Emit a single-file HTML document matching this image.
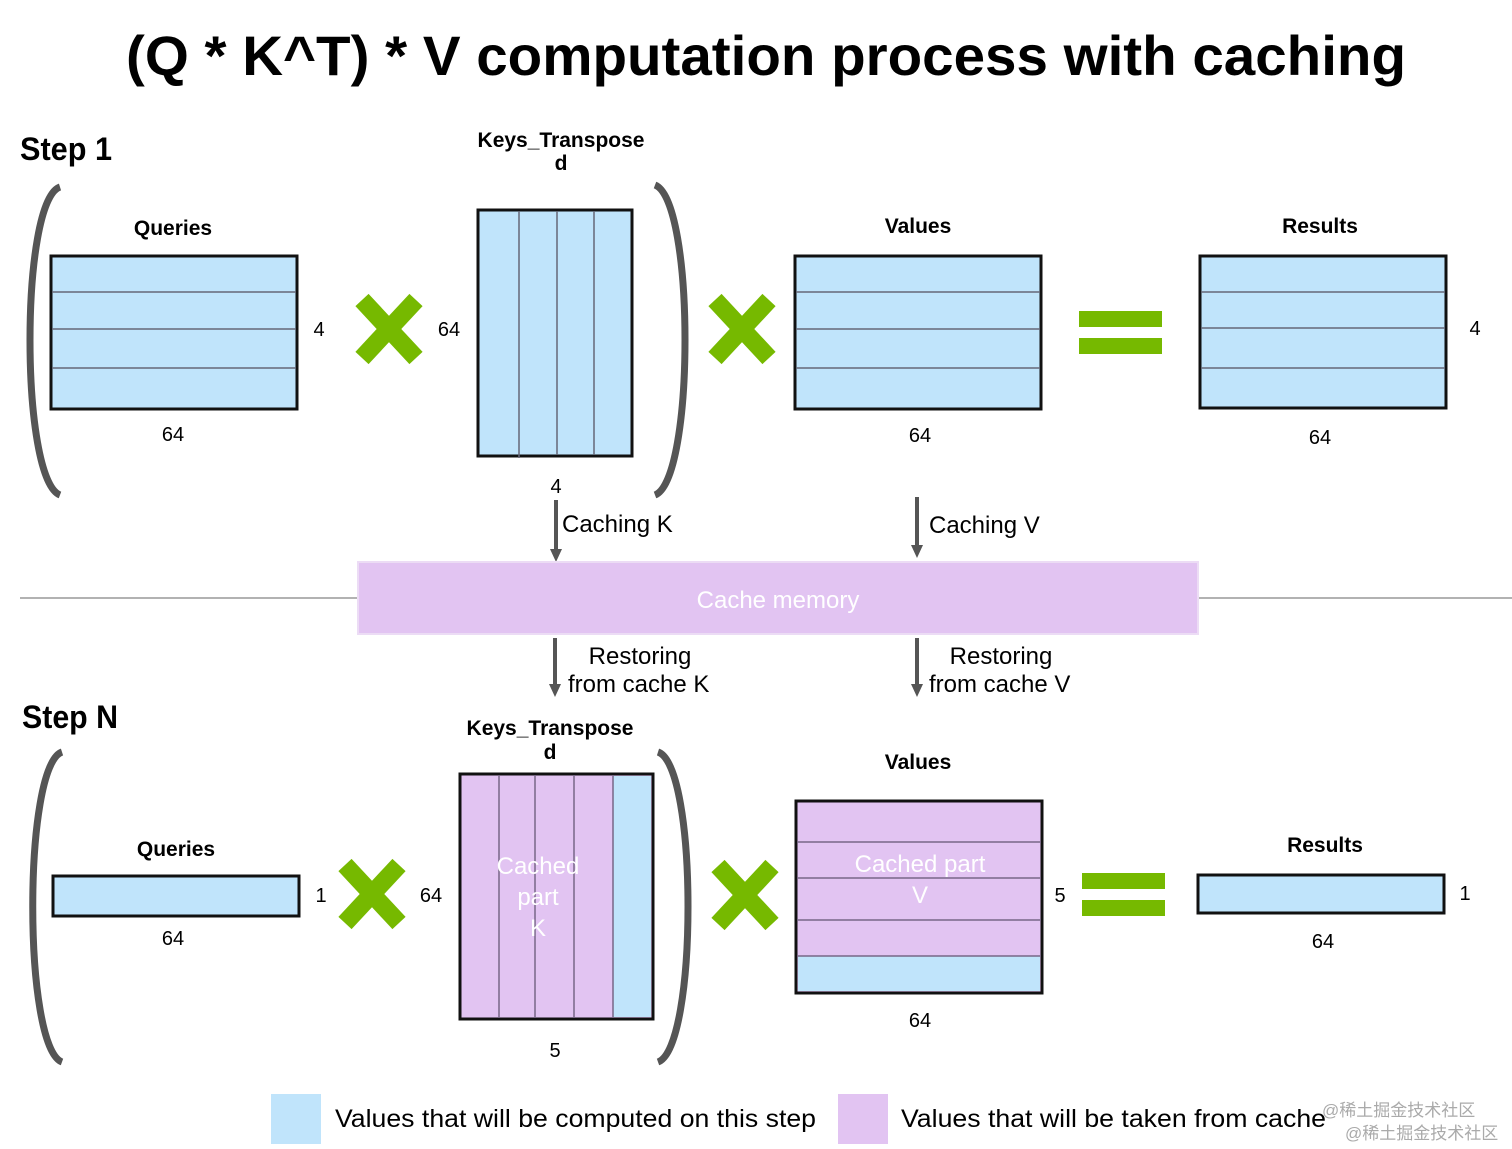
<!DOCTYPE html>
<html><head><meta charset="utf-8"><style>
html,body{margin:0;padding:0;background:#fff;}
svg{display:block;}
text{font-family:"Liberation Sans","Noto Sans CJK SC",sans-serif;}
</style></head><body>
<svg width="1512" height="1149" viewBox="0 0 1512 1149" xmlns="http://www.w3.org/2000/svg">
<defs>
<marker id="ah" markerWidth="10" markerHeight="10" refX="5" refY="5" orient="auto" markerUnits="userSpaceOnUse"><path d="M0,0 L10,5 L0,10 z" fill="#555"/></marker>
</defs>
<text x="766" y="75" font-size="56" font-weight="bold" text-anchor="middle" textLength="1280" lengthAdjust="spacingAndGlyphs">(Q * K^T) * V computation process with caching</text>

<!-- Step 1 -->
<text x="20" y="160" font-size="32" font-weight="bold" textLength="92" lengthAdjust="spacingAndGlyphs">Step 1</text>
<path d="M60,187 C20,200 20,480 60,495" fill="none" stroke="#555" stroke-width="7"/>
<path d="M655,185 C695,200 695,480 655,495" fill="none" stroke="#555" stroke-width="7"/>

<text x="173" y="235" font-size="21" font-weight="bold" text-anchor="middle">Queries</text>
<rect x="51" y="256" width="246" height="153" fill="#c0e4fb" stroke="#111" stroke-width="3"/>
<g stroke="#667" stroke-width="1.5"><line x1="52" y1="292" x2="296" y2="292"/><line x1="52" y1="329" x2="296" y2="329"/><line x1="52" y1="368" x2="296" y2="368"/></g>
<text x="319" y="336" font-size="20" text-anchor="middle">4</text>
<text x="173" y="441" font-size="20" text-anchor="middle">64</text>

<g stroke="#76b900" stroke-width="18"><line x1="362" y1="300" x2="416" y2="358"/><line x1="416" y1="300" x2="362" y2="358"/></g>
<text x="449" y="336" font-size="20" text-anchor="middle">64</text>

<text x="561" y="147" font-size="21" font-weight="bold" text-anchor="middle">Keys_Transpose</text>
<text x="561" y="170" font-size="21" font-weight="bold" text-anchor="middle">d</text>
<rect x="478" y="210" width="154" height="246" fill="#c0e4fb" stroke="#111" stroke-width="3"/>
<g stroke="#667" stroke-width="1.5"><line x1="519" y1="211" x2="519" y2="458"/><line x1="557" y1="211" x2="557" y2="455"/><line x1="594" y1="211" x2="594" y2="455"/></g>
<text x="556" y="493" font-size="20" text-anchor="middle">4</text>

<g stroke="#76b900" stroke-width="18"><line x1="715" y1="300" x2="769" y2="358"/><line x1="769" y1="300" x2="715" y2="358"/></g>

<text x="918" y="233" font-size="21" font-weight="bold" text-anchor="middle">Values</text>
<rect x="795" y="256" width="246" height="153" fill="#c0e4fb" stroke="#111" stroke-width="3"/>
<g stroke="#667" stroke-width="1.5"><line x1="796" y1="292" x2="1040" y2="292"/><line x1="796" y1="329" x2="1040" y2="329"/><line x1="796" y1="368" x2="1040" y2="368"/></g>
<text x="920" y="442" font-size="20" text-anchor="middle">64</text>

<rect x="1079" y="311" width="83" height="16" fill="#76b900"/>
<rect x="1079" y="338" width="83" height="16" fill="#76b900"/>

<text x="1320" y="233" font-size="21" font-weight="bold" text-anchor="middle">Results</text>
<rect x="1200" y="256" width="246" height="152" fill="#c0e4fb" stroke="#111" stroke-width="3"/>
<g stroke="#667" stroke-width="1.5"><line x1="1201" y1="292" x2="1445" y2="292"/><line x1="1201" y1="328" x2="1445" y2="328"/><line x1="1201" y1="368" x2="1445" y2="368"/></g>
<text x="1475" y="335" font-size="20" text-anchor="middle">4</text>
<text x="1320" y="444" font-size="20" text-anchor="middle">64</text>

<!-- caching arrows -->
<line x1="556" y1="500" x2="556" y2="552" stroke="#555" stroke-width="4"/>
<path d="M550,549 L562,549 L556,562 z" fill="#555"/>
<text x="562" y="532" font-size="24">Caching K</text>
<line x1="917" y1="497" x2="917" y2="548" stroke="#555" stroke-width="4"/>
<path d="M911,545 L923,545 L917,558 z" fill="#555"/>
<text x="929" y="533" font-size="24">Caching V</text>

<line x1="20" y1="598" x2="1512" y2="598" stroke="#999" stroke-width="1.5"/>
<rect x="358" y="562" width="840" height="72" fill="#e2c4f2" stroke="#ecdcf5" stroke-width="2"/>
<text x="778" y="608" font-size="24" fill="#fff" text-anchor="middle">Cache memory</text>

<line x1="555" y1="638" x2="555" y2="687" stroke="#555" stroke-width="4"/>
<path d="M549,684 L561,684 L555,697 z" fill="#555"/>
<text x="640" y="664" font-size="24" text-anchor="middle">Restoring</text>
<text x="568" y="692" font-size="24">from cache K</text>
<line x1="917" y1="638" x2="917" y2="687" stroke="#555" stroke-width="4"/>
<path d="M911,684 L923,684 L917,697 z" fill="#555"/>
<text x="1001" y="664" font-size="24" text-anchor="middle">Restoring</text>
<text x="929" y="692" font-size="24">from cache V</text>

<!-- Step N -->
<text x="22" y="728" font-size="32" font-weight="bold" textLength="96" lengthAdjust="spacingAndGlyphs">Step N</text>
<path d="M62,752 C23,765 23,1048 62,1062" fill="none" stroke="#555" stroke-width="7"/>
<path d="M658,752 C698,765 698,1048 658,1062" fill="none" stroke="#555" stroke-width="7"/>

<text x="176" y="856" font-size="21" font-weight="bold" text-anchor="middle">Queries</text>
<rect x="53" y="876" width="246" height="40" fill="#c0e4fb" stroke="#111" stroke-width="3"/>
<text x="321" y="902" font-size="20" text-anchor="middle">1</text>
<text x="173" y="945" font-size="20" text-anchor="middle">64</text>
<g stroke="#76b900" stroke-width="18"><line x1="345" y1="865" x2="399" y2="923"/><line x1="399" y1="865" x2="345" y2="923"/></g>
<text x="431" y="902" font-size="20" text-anchor="middle">64</text>

<text x="550" y="735" font-size="21" font-weight="bold" text-anchor="middle">Keys_Transpose</text>
<text x="550" y="759" font-size="21" font-weight="bold" text-anchor="middle">d</text>
<rect x="460" y="774" width="193" height="245" fill="#e2c4f2" stroke="#111" stroke-width="3"/>
<rect x="613" y="776" width="38" height="241" fill="#c0e4fb"/>
<g stroke="#768" stroke-width="1.5"><line x1="499" y1="775" x2="499" y2="1018"/><line x1="535" y1="775" x2="535" y2="1018"/><line x1="574" y1="775" x2="574" y2="1018"/><line x1="613" y1="775" x2="613" y2="1018"/></g>
<text x="538" y="874" font-size="24" fill="#fff" text-anchor="middle">Cached</text>
<text x="538" y="905" font-size="24" fill="#fff" text-anchor="middle">part</text>
<text x="538" y="936" font-size="24" fill="#fff" text-anchor="middle">K</text>
<text x="555" y="1057" font-size="20" text-anchor="middle">5</text>

<g stroke="#76b900" stroke-width="18"><line x1="718" y1="866" x2="772" y2="924"/><line x1="772" y1="866" x2="718" y2="924"/></g>

<text x="918" y="769" font-size="21" font-weight="bold" text-anchor="middle">Values</text>
<rect x="796" y="801" width="246" height="192" fill="#e2c4f2" stroke="#111" stroke-width="3"/>
<rect x="798" y="956" width="242" height="35" fill="#c0e4fb"/>
<g stroke="#768" stroke-width="1.5"><line x1="797" y1="842" x2="1041" y2="842"/><line x1="797" y1="878" x2="1041" y2="878"/><line x1="797" y1="920" x2="1041" y2="920"/><line x1="797" y1="956" x2="1041" y2="956"/></g>
<text x="920" y="872" font-size="24" fill="#fff" text-anchor="middle">Cached part</text>
<text x="920" y="903" font-size="24" fill="#fff" text-anchor="middle">V</text>
<text x="1060" y="902" font-size="20" text-anchor="middle">5</text>
<text x="920" y="1027" font-size="20" text-anchor="middle">64</text>

<rect x="1082" y="873" width="83" height="16" fill="#76b900"/>
<rect x="1082" y="900" width="83" height="16" fill="#76b900"/>

<text x="1325" y="852" font-size="21" font-weight="bold" text-anchor="middle">Results</text>
<rect x="1198" y="875" width="246" height="38" fill="#c0e4fb" stroke="#111" stroke-width="3"/>
<text x="1465" y="900" font-size="20" text-anchor="middle">1</text>
<text x="1323" y="948" font-size="20" text-anchor="middle">64</text>

<!-- legend -->
<rect x="271" y="1094" width="50" height="50" fill="#c0e4fb"/>
<text x="335" y="1127" font-size="25" textLength="481" lengthAdjust="spacingAndGlyphs">Values that will be computed on this step</text>
<rect x="838" y="1094" width="50" height="50" fill="#e2c4f2"/>
<text x="901" y="1127" font-size="25" textLength="425" lengthAdjust="spacingAndGlyphs">Values that will be taken from cache</text>
<text x="1322" y="1116" font-size="17" fill="#aaa">@稀土掘金技术社区</text>
<text x="1345" y="1139" font-size="17" fill="#aaa">@稀土掘金技术社区</text>
</svg>
</body></html>
